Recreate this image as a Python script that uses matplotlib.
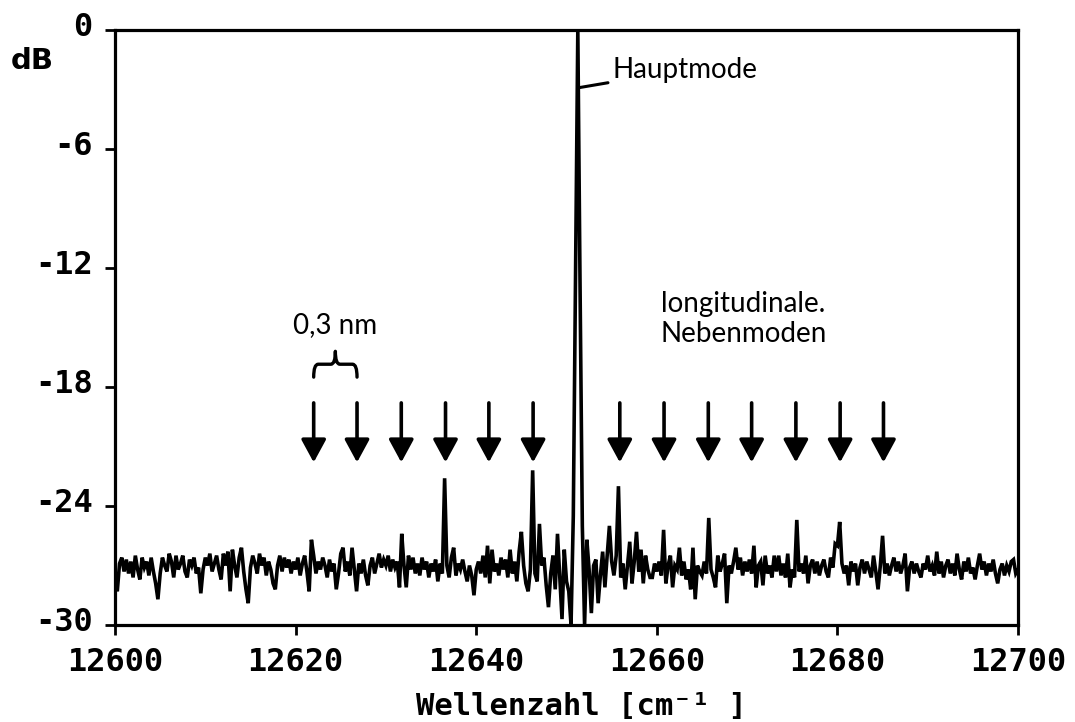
import numpy as np
import matplotlib
matplotlib.use("Agg")
import matplotlib.pyplot as plt
import matplotlib.transforms as mtransforms
from matplotlib.path import Path
from matplotlib.patches import PathPatch

# Spectrum sampled every 0.25 cm^-1 between 12600 and 12700 cm^-1
WN_START, WN_STOP, WN_STEP = 12600.0, 12700.0, 0.25

# Measured level in dB, one row per 5 cm^-1 (20 samples each)
pegel_db = [
    -27.6, -28.3, -26.9, -26.6, -27.3, -26.7, -27.4, -26.8, -27.6, -26.5, -27.2, -27.7, -26.6, -27.1, -26.8, -27.5, -26.6, -27.3, -27.9, -28.7,  # 12600
    -27.4, -26.6, -27.0, -27.3, -26.4, -26.8, -27.6, -26.5, -27.2, -26.9, -26.5, -27.3, -27.6, -26.7, -27.0, -26.6, -27.4, -27.1, -28.4, -27.2,  # 12605
    -26.6, -27.0, -26.4, -27.3, -26.9, -26.5, -27.2, -27.7, -26.4, -27.0, -26.3, -28.3, -26.2, -27.0, -27.6, -26.6, -26.1, -27.3, -28.2, -28.9,  # 12610
    -27.1, -26.5, -26.9, -27.4, -26.4, -27.0, -26.6, -27.5, -26.8, -27.2, -27.9, -28.2, -27.0, -26.5, -27.3, -26.6, -27.1, -26.7, -27.4, -26.8,  # 12615
    -27.2, -26.6, -27.5, -26.9, -26.5, -27.3, -28.3, -25.7, -26.5, -27.4, -26.8, -27.2, -26.6, -27.0, -27.6, -26.7, -27.3, -26.9, -28.2, -27.4,  # 12620
    -26.4, -26.1, -27.3, -26.8, -27.5, -26.1, -27.2, -28.3, -26.9, -27.4, -26.7, -27.5, -28.0, -27.0, -26.6, -27.4, -26.9, -26.4, -27.1, -26.7,  # 12625
    -27.0, -26.5, -27.3, -26.7, -27.1, -26.8, -28.1, -25.4, -27.0, -28.1, -26.5, -27.2, -26.6, -27.4, -26.9, -27.5, -26.6, -27.2, -26.8, -27.6,  # 12630
    -26.9, -27.3, -26.7, -27.8, -26.9, -27.4, -22.6, -27.0, -27.6, -26.6, -26.1, -27.5, -26.9, -27.2, -26.7, -27.3, -27.8, -27.0, -27.5, -28.5,  # 12635
    -27.2, -26.8, -27.4, -26.5, -27.6, -26.0, -27.9, -26.2, -27.3, -26.9, -27.5, -26.6, -27.2, -26.7, -27.6, -26.2, -27.4, -26.8, -27.8, -26.3,  # 12640
    -25.3, -27.0, -27.9, -28.3, -27.2, -22.2, -27.4, -27.8, -24.9, -27.0, -26.6, -28.0, -29.1, -27.4, -26.5, -28.2, -25.4, -27.6, -29.7, -26.2,  # 12645
    -27.8, -28.3, -30.0, -24.5, -12.0, 0.0, -13.0, -25.0, -30.0, -25.7, -27.2, -29.4, -27.0, -26.7, -28.9, -27.5, -26.3, -28.1, -26.5, -25.0,  # 12650
    -26.8, -27.5, -26.5, -23.0, -27.6, -26.9, -28.2, -27.0, -25.8, -27.9, -26.8, -25.3, -27.3, -26.2, -27.9, -26.5, -27.2, -27.6, -27.6, -26.9,  # 12655
    -27.3, -26.8, -27.5, -25.2, -27.9, -27.0, -26.5, -28.1, -27.0, -27.2, -26.1, -27.5, -26.8, -27.7, -27.2, -28.2, -26.1, -28.7, -27.0, -27.3,  # 12660
    -27.5, -26.8, -27.4, -24.6, -27.2, -27.6, -28.1, -26.5, -27.3, -26.9, -26.4, -28.9, -27.0, -27.4, -26.8, -26.1, -27.2, -26.6, -27.5, -26.8,  # 12665
    -27.3, -26.7, -27.4, -26.0, -28.1, -27.0, -26.8, -28.0, -26.5, -27.4, -27.0, -27.6, -26.5, -27.3, -26.5, -27.5, -26.9, -27.6, -26.4, -28.1,  # 12670
    -27.2, -27.6, -24.7, -27.3, -26.9, -27.4, -26.5, -27.9, -27.0, -26.7, -27.4, -26.8, -27.5, -27.0, -26.7, -27.3, -27.6, -26.6, -27.1, -25.9,  # 12675
    -26.0, -24.8, -26.9, -27.4, -27.0, -28.0, -26.8, -27.3, -26.9, -28.0, -27.1, -26.7, -27.4, -26.8, -27.2, -27.6, -26.5, -27.3, -28.2, -27.0,  # 12680
    -25.5, -27.4, -26.9, -27.5, -27.0, -26.6, -27.3, -26.8, -27.4, -27.0, -26.4, -28.3, -27.1, -26.8, -27.4, -26.9, -27.3, -27.6, -26.9, -27.2,  # 12685
    -26.5, -27.3, -27.0, -27.5, -26.3, -27.4, -26.8, -27.6, -27.0, -26.7, -27.4, -26.9, -27.5, -26.4, -27.2, -27.7, -26.8, -27.3, -26.6, -27.4,  # 12690
    -27.1, -27.7, -27.0, -26.4, -27.2, -26.8, -27.5, -26.9, -27.3, -26.7, -27.4, -27.9, -27.2, -26.9, -27.5, -27.0, -27.3, -26.8, -26.7, -27.4,  # 12695
    -27.2,
]

# Positions of the longitudinal side modes (cm^-1)
nebenmoden_wn = [12622.0, 12626.8, 12631.7, 12636.6, 12641.4, 12646.3,
                 12655.9, 12660.8, 12665.7, 12670.5, 12675.4, 12680.3, 12685.1]
hauptmode_wn = 12651.25

x_ticks = [12600, 12620, 12640, 12660, 12680, 12700]
y_ticks = [0, -6, -12, -18, -24, -30]

ANNOT_FONT = ["Lato", "DejaVu Sans"]
TICK_FONT = "DejaVu Sans Mono"

wellenzahl = np.arange(WN_START, WN_STOP + WN_STEP / 2, WN_STEP)
pegel = np.array(pegel_db)

fig = plt.figure(figsize=(10.75, 7.22), dpi=100)
ax = fig.add_axes([0.107, 0.1343, 0.840, 0.8241])

ax.plot(wellenzahl, pegel, color="black", lw=2.6, solid_joinstyle="miter")

ax.set_xlim(WN_START, WN_STOP)
ax.set_ylim(-30, 0)
ax.set_xticks(x_ticks)
ax.set_yticks(y_ticks)
ax.set_xticklabels([str(v) for v in x_ticks], family=TICK_FONT, fontsize=23, weight="bold")
ax.set_yticklabels([str(v) for v in y_ticks], family=TICK_FONT, fontsize=23, weight="bold")
ax.tick_params(axis="x", direction="out", length=7, width=2, pad=9, top=False)
ax.tick_params(axis="y", direction="out", length=7, width=2, pad=9, right=False)
for sp in ax.spines.values():
    sp.set_linewidth(2.3)

# y labels sit slightly above their ticks
shift = mtransforms.ScaledTranslation(0, 4.5 / 72, fig.dpi_scale_trans)
for lbl in ax.get_yticklabels():
    lbl.set_transform(lbl.get_transform() + shift)

ax.set_xlabel("Wellenzahl [cm\u207b\u00b9 ]", family=TICK_FONT, fontsize=22, weight="bold",
              labelpad=10)
ax.xaxis.set_label_coords(0.516, -0.112)
fig.text(0.010, 0.915, "dB", fontsize=21, family="DejaVu Sans", weight="bold",
         ha="left", va="center")

# arrows marking the side modes
for wn in nebenmoden_wn:
    ax.annotate("", xy=(wn, -21.8), xytext=(wn, -18.8),
                arrowprops=dict(arrowstyle="-|>,head_length=0.7,head_width=0.38",
                                lw=2.6, color="black", shrinkA=0, shrinkB=0,
                                mutation_scale=20))

# curly brace spanning one mode spacing
x0, x1 = nebenmoden_wn[0], nebenmoden_wn[1]
xm = (x0 + x1) / 2
yb, yt = -17.5, -16.2
ym = (yb + yt) / 2
codes = [Path.MOVETO, Path.CURVE3, Path.CURVE3, Path.LINETO,
         Path.CURVE3, Path.CURVE3,
         Path.CURVE3, Path.CURVE3, Path.LINETO,
         Path.CURVE3, Path.CURVE3]
verts = [(x0, yb), (x0, ym), (x0 + 0.5, ym), (xm - 0.5, ym),
         (xm, ym), (xm, yt),
         (xm, ym), (xm + 0.5, ym), (x1 - 0.5, ym),
         (x1, ym), (x1, yb)]
ax.add_patch(PathPatch(Path(verts, codes), fill=False, lw=2.4, color="black",
                       capstyle="round", joinstyle="round"))
ax.text(xm, -15.55, "0,3 nm", family=ANNOT_FONT, fontsize=20,
        ha="center", va="bottom")

ax.text(12669.6, -16.0, "longitudinale.\nNebenmoden", family=ANNOT_FONT, fontsize=20,
        ha="center", va="bottom", linespacing=1.2)

# label for the main mode with a short leader line
ax.annotate("Hauptmode", xy=(hauptmode_wn + 0.2, -2.9), xytext=(hauptmode_wn + 3.8, -2.0),
            family=ANNOT_FONT, fontsize=20, ha="left", va="center",
            arrowprops=dict(arrowstyle="-", lw=2.2, color="black",
                            shrinkA=1, shrinkB=0))

fig.savefig("out.png", dpi=100)
